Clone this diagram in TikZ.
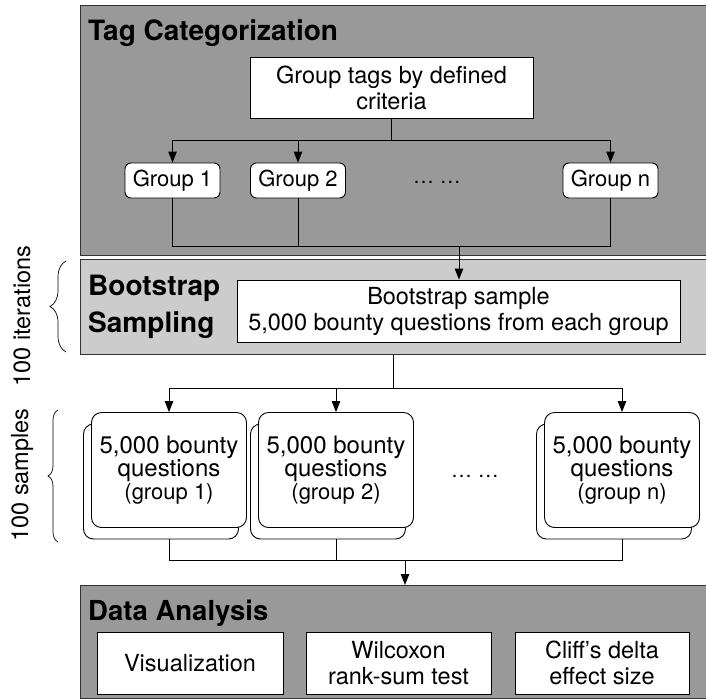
\documentclass[tikz,border=0pt]{standalone}
\usepackage{fontspec}
\setmainfont{TeX Gyre Heros}
\usepackage{tikz}
\usetikzlibrary{arrows.meta, positioning, calc, decorations.pathreplacing}
\definecolor{darkpanel}{HTML}{999999}
\definecolor{lightpanel}{HTML}{CCCCCC}

\begin{document}
\begin{tikzpicture}[x=1pt, y=-1pt,
  panel/.style={draw=black!80, line width=1.3pt, anchor=north west, inner sep=0pt, minimum width=626pt},
  whitebox/.style={draw, fill=white, line width=0.9pt, align=center, inner sep=0pt, font=\fontsize{23.5}{26}\selectfont},
  groupbox/.style={whitebox, rounded corners=6pt, minimum width=95pt, minimum height=35pt, font=\fontsize{22}{24}\selectfont},
  samplebox/.style={whitebox, rounded corners=10pt, minimum width=155pt, minimum height=115pt, font=\fontsize{24}{23}\selectfont},
  paneltitle/.style={anchor=base west, align=left, inner sep=0pt, font=\bfseries\fontsize{28}{37}\selectfont},
  sidelabel/.style={rotate=90, inner sep=0pt, font=\fontsize{23.5}{26}\selectfont},
  link/.style={line width=1pt},
  arrowlink/.style={link, -{Triangle[length=11pt, width=8.5pt]}},
  sidebrace/.style={decorate, decoration={brace, amplitude=16pt}, line width=0.7pt}
]
\useasboundingbox (0,0) rectangle (706,699);

% panels
\node[panel, fill=darkpanel, minimum height=250pt] (tagpanel) at (80,5) {};
\node[panel, fill=lightpanel, minimum height=95pt] (bootpanel) at (80,259) {};
\node[panel, fill=darkpanel, minimum height=113pt] (datapanel) at (80,585) {};

\node[paneltitle] (tagtitle) at (88,40) {Tag Categorization};
\node[paneltitle, anchor=north west] (boottitle) at (88,275) {Bootstrap\\Sampling};
\node[paneltitle, font=\bfseries\fontsize{27.5}{37}\selectfont] (datatitle) at (88,620) {Data Analysis};

% tag categorization
\node[whitebox, minimum width=283pt, minimum height=61pt] (criteria) at (391.5,87.5) {Group tags by defined\\criteria};
\node[groupbox] (g1) at (172.5,180.5) {Group 1};
\node[groupbox] (g2) at (298,180.5) {Group 2};
\node[font=\fontsize{21}{24}\selectfont] (gdots) at (437,182) {… …};
\node[groupbox] (gn) at (610.5,180.5) {Group n};

% bootstrap sampling
\node[whitebox, minimum width=443pt, minimum height=62pt] (bootinner) at (458.5,311) {Bootstrap sample\\5,000 bounty questions from each group};

% samples
\foreach \name/\x/\lbl in {s1/169/1, s2/336/2, sn/622/n} {
  \node[samplebox] ({\name}back) at (\x-8,481.5) {};
  \node[samplebox] (\name) at (\x,470) {5,000 bounty\\questions\\{\fontsize{22}{24}\selectfont(group \lbl)}};
}
\node[font=\fontsize{21}{24}\selectfont] (sdots) at (475,476) {… …};

% data analysis
\node[whitebox, minimum width=186pt, minimum height=62pt] (vis) at (190,663) {Visualization};
\node[whitebox, minimum width=185pt, minimum height=62pt] (wilcoxon) at (398.5,663) {Wilcoxon\\rank-sum test};
\node[whitebox, minimum width=174pt, minimum height=62pt] (cliff) at (602,663) {Cliff’s delta\\effect size};

% side labels
\node[sidelabel] (iterlabel) at (22,316) {100 iterations};
\node[sidelabel] (samplelabel) at (22,475) {100 samples};
\draw[sidebrace] (66,352) -- (66,261);
\draw[sidebrace, decoration={amplitude=10pt}] (58,542) -- (58,410);

% connectors
\coordinate (split1) at (criteria.south |- 0,140);
\foreach \g in {g1,g2,gn}
  \draw[arrowlink] (criteria.south) -- (split1) -| (\g.north);
\coordinate (join1) at (459,246);
\foreach \g in {g1,g2,gn}
  \draw[link] (\g.south) |- (join1);
\draw[arrowlink] (join1) -- (join1 |- bootinner.north);

\coordinate (split2) at (bootpanel.south |- 0,388);
\foreach \s in {s1,s2,sn}
  \draw[arrowlink] (bootpanel.south) -- (split2) -| (\s.north);
\coordinate (join2) at (405,560);
\foreach \s in {s1,s2,sn}
  \draw[link] (\s.south |- {\s}back.south) |- (join2);
\draw[arrowlink] (join2) -- (join2 |- datapanel.north);
\end{tikzpicture}
\end{document}
